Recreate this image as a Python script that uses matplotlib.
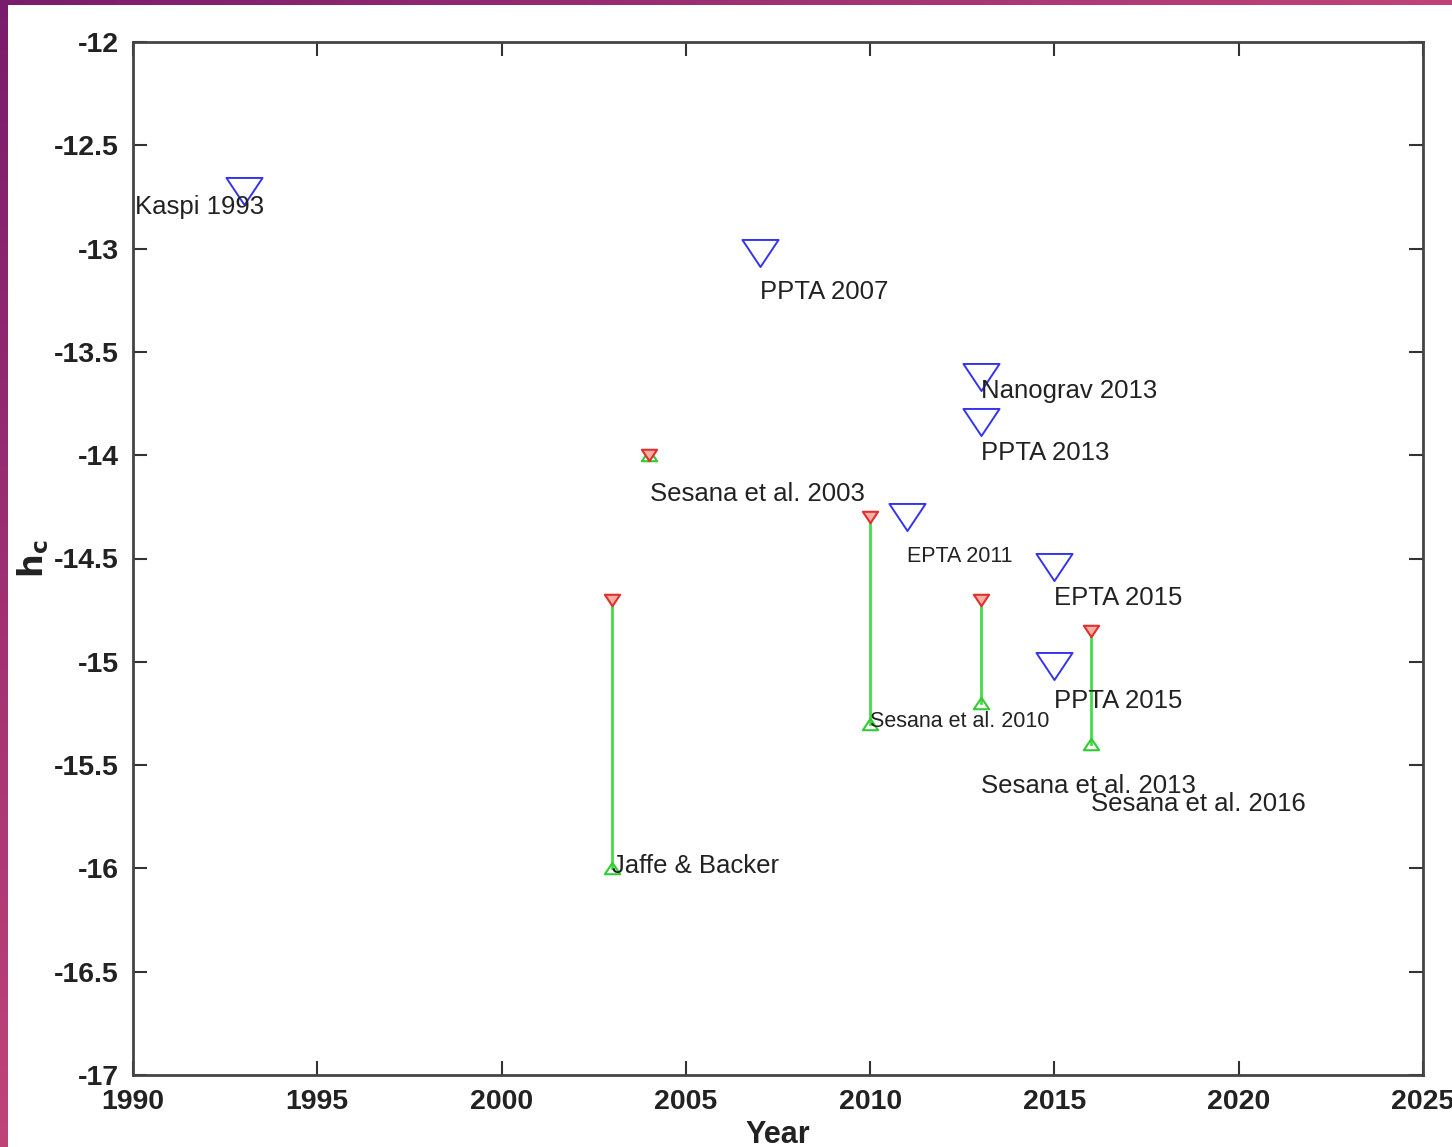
import numpy as np
import matplotlib.pyplot as plt
from matplotlib.path import Path
from matplotlib.patches import Rectangle

# upper limits from pulsar timing
limit_names = ['Kaspi 1993', 'PPTA 2007', 'Nanograv 2013', 'PPTA 2013',
               'EPTA 2011', 'EPTA 2015', 'PPTA 2015']
limit_years = [1993, 2007, 2013, 2013, 2011, 2015, 2015]
limit_hc = [-12.72, -13.02, -13.62, -13.84, -14.30, -14.54, -15.02]

# predicted ranges from models
model_names = ['Jaffe & Backer', 'Sesana et al. 2003', 'Sesana et al. 2010',
               'Sesana et al. 2013', 'Sesana et al. 2016']
model_years = [2003, 2004, 2010, 2013, 2016]
model_hi = [-14.7, -14.0, -14.3, -14.7, -14.85]
model_lo = [-16.0, -14.0, -15.3, -15.2, -15.4]

# label placement (offset from the point, font size)
limit_lab = [(-2.95, -0.08, 18.5), (0, -0.19, 18.5), (0, -0.07, 18.5), (0, -0.15, 18.5),
             (0, -0.19, 15.5), (0, -0.15, 18.5), (0, -0.17, 18.5)]
model_lab = [(0, 0.01, 18.5), (0.03, -0.19, 18.5), (0, 0.01, 15.5),
             (0, -0.40, 18.5), (0, -0.29, 18.5)]

plt.rcParams['font.family'] = ['Liberation Sans', 'DejaVu Sans']

W, H = 1452, 1147
fig = plt.figure(figsize=(W / 100, H / 100), dpi=100)

# slide background: purple-pink gradient with a white panel on top
bg = fig.add_axes([0, 0, 1, 1], zorder=-2)
gx, gy = np.meshgrid(np.linspace(0, 1, 200), np.linspace(0, 1, 160))
t = np.clip((gx + gy) * 0.9, 0, 1)
c0 = np.array([0x7a, 0x1c, 0x6c]) / 255
c1 = np.array([0xc8, 0x48, 0x7a]) / 255
img = c0[None, None, :] * (1 - t[..., None]) + c1[None, None, :] * t[..., None]
bg.imshow(img, aspect='auto', extent=[0, 1, 1, 0])
bg.set_xlim(0, 1)
bg.set_ylim(1, 0)
bg.axis('off')
fig.patches.append(Rectangle((8 / W, 0), 1, 1 - 5 / H, transform=fig.transFigure,
                             facecolor='white', edgecolor='none', zorder=-1))

ax = fig.add_axes([133 / W, 1 - 1075 / H, (1423 - 133) / W, (1075 - 42) / H])
ax.set_facecolor('white')

# triangles a bit wider than tall
down_tri = Path([(-1, 0.75), (1, 0.75), (0, -0.75), (-1, 0.75)],
                [Path.MOVETO, Path.LINETO, Path.LINETO, Path.CLOSEPOLY])
up_tri = Path([(-1, -0.75), (1, -0.75), (0, 0.75), (-1, -0.75)],
              [Path.MOVETO, Path.LINETO, Path.LINETO, Path.CLOSEPOLY])

ax.plot(limit_years, limit_hc, linestyle='none', marker=down_tri, ms=26,
        mfc='none', mec='#3434ee', mew=1.4)

for x, hi, lo in zip(model_years, model_hi, model_lo):
    ax.plot([x, x], [hi, lo], color='#44dd44', lw=2)
ax.plot(model_years, model_lo, linestyle='none', marker=up_tri, ms=11,
        mfc='none', mec='#33cc33', mew=1.5)
ax.plot(model_years, model_hi, linestyle='none', marker=down_tri, ms=11,
        mfc='#f4b0a0', mec='#e03030', mew=1.5)

for name, x, y, (dx, dy, fs) in zip(limit_names, limit_years, limit_hc, limit_lab):
    ax.text(x + dx, y + dy, name, fontsize=fs, ha='left', va='center', color='#222222')
for name, x, y, (dx, dy, fs) in zip(model_names, model_years, model_lo, model_lab):
    ax.text(x + dx, y + dy, name, fontsize=fs, ha='left', va='center', color='#222222')

ax.set_xlim(1990, 2025)
ax.set_ylim(-17, -12)
ax.set_xticks(np.arange(1990, 2026, 5))
ax.set_yticks(np.arange(-17, -11.9, 0.5))
ax.set_yticklabels(['-17', '-16.5', '-16', '-15.5', '-15', '-14.5', '-14',
                    '-13.5', '-13', '-12.5', '-12'])
ax.tick_params(direction='in', length=10, width=1.5, top=True, right=True,
               labelsize=20.5, colors='#333333', pad=10)
for lab in ax.get_xticklabels() + ax.get_yticklabels():
    lab.set_fontweight('bold')
    lab.set_color('#222222')
for sp in ax.spines.values():
    sp.set_linewidth(2)
    sp.set_color('#444444')

ax.set_xlabel('Year', fontsize=22, fontweight='bold', color='#222222', labelpad=4)
ax.set_ylabel(r'$\mathbf{h_c}$', fontsize=24, color='#222222', labelpad=2)

fig.savefig('out.png', dpi=100)
